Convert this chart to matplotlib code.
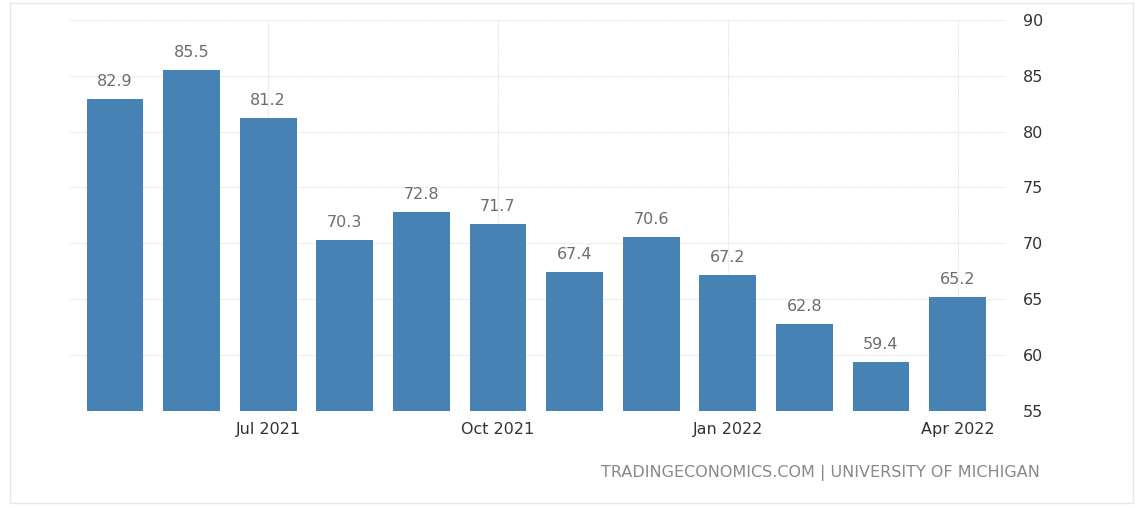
import matplotlib.pyplot as plt
from matplotlib.patches import Rectangle

months = ['May 2021', 'Jun 2021', 'Jul 2021', 'Aug 2021', 'Sep 2021', 'Oct 2021',
          'Nov 2021', 'Dec 2021', 'Jan 2022', 'Feb 2022', 'Mar 2022', 'Apr 2022']
values = [82.9, 85.5, 81.2, 70.3, 72.8, 71.7, 67.4, 70.6, 67.2, 62.8, 59.4, 65.2]
tick_idx = [2, 5, 8, 11]
yticks = [55, 60, 65, 70, 75, 80, 85, 90]

fig = plt.figure(figsize=(11.41, 5.08), dpi=100)
fig.patches.append(Rectangle((0.009, 0.01), 0.984, 0.985, transform=fig.transFigure,
                             fill=False, edgecolor='#e6e6e6', linewidth=1))
ax = fig.add_axes([0.0605, 0.191, 0.819, 0.770])

x = range(len(values))
ax.bar(x, [v - 55 for v in values], bottom=55, width=0.74, color='#4682b4', zorder=3)
for i, v in zip(x, values):
    ax.text(i, v + 0.9, f'{v:.1f}', ha='center', va='bottom', fontsize=11.5,
            color='#6d6d6d', zorder=4)

ax.set_xlim(-0.6, 11.6)
ax.set_ylim(55, 90)
ax.set_yticks(yticks)
ax.set_xticks(tick_idx)
ax.set_xticklabels([months[i].replace('May', 'May') for i in tick_idx])
ax.set_xticklabels(['Jul 2021', 'Oct 2021', 'Jan 2022', 'Apr 2022'])
ax.yaxis.tick_right()
ax.tick_params(axis='both', length=0, labelsize=11.5, colors='#333333', pad=8)
ax.tick_params(axis='y', pad=14)
ax.grid(True, color='#dddddd', linestyle=(0, (1, 1)), linewidth=0.8, zorder=0)
for s in ax.spines.values():
    s.set_visible(False)
ax.axvline(11.6, color='#dddddd', linewidth=0.8, linestyle=(0, (1, 1)))

fig.text(0.911, 0.068, 'TRADINGECONOMICS.COM | UNIVERSITY OF MICHIGAN', ha='right',
         va='center', fontsize=11.5, color='#888888')

fig.savefig('out.png')
